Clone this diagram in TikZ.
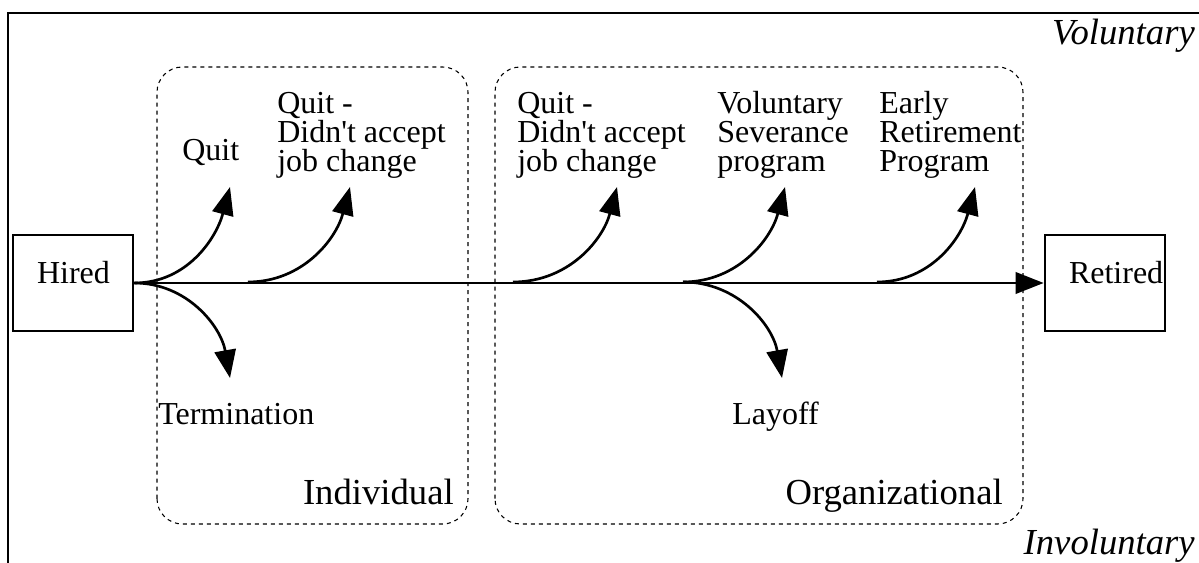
\documentclass[tikz,border=0pt]{standalone}
\usepackage{fontspec}
\setmainfont{Liberation Serif}
\usetikzlibrary{arrows.meta}

\begin{document}
\begin{tikzpicture}[
    x=0.75pt, y=0.75pt,
    stagenode/.style={rectangle, draw=black, line width=2pt, minimum height=72pt, text width=54pt, inner xsep=18pt, align=left, text height=16pt, text depth=15pt, font=\fontsize{24}{22}\selectfont},
    groupbox/.style={draw=black, line width=0.8pt, dash pattern=on 3pt off 3pt, rounded corners=19pt},
    labelnode/.style={anchor=base west, inner sep=0pt, align=left, font=\fontsize{24}{22}\selectfont},
    bignode/.style={anchor=base east, inner sep=0pt, font=\fontsize{27.5}{30}\selectfont},
    flow/.style={line width=2pt, -{Triangle[length=21pt,width=16pt]}}
    ]
    \useasboundingbox (0,0) rectangle (1199,563);

    %Frame
    \draw[line width=2pt] (8,0) -- (8,550) -- (1199,550);
    \node[bignode] (voluntary_label)   at (1195,518) {\itshape Voluntary};
    \node[bignode] (involuntary_label) at (1195,8)   {\itshape Involuntary};

    %Groups
    \draw[groupbox] (157,39) rectangle (468,496);
    \draw[groupbox] (495,39) rectangle (1023,496);
    \node[bignode] (individual_label)     at (454,58)  {Individual};
    \node[bignode] (organizational_label) at (1003,58) {Organizational};

    %Start and end
    \node[stagenode] (hired)   at (73,280)   {Hired};
    \node[stagenode] (retired) at (1105,280) {Retired};

    %Branch points
    \coordinate (quit_change_start) at (248,281);
    \coordinate (org_change_start)  at (513,281);
    \coordinate (severance_start)   at (683,281);
    \coordinate (early_start)       at (877,281);

    %Arrow ends
    \coordinate (quit_tip)        at (230,376);
    \coordinate (quit_change_tip) at (350,376);
    \coordinate (org_change_tip)  at (617,376);
    \coordinate (severance_tip)   at (785,376);
    \coordinate (early_tip)       at (975,376);
    \coordinate (termination_tip) at (230,185);
    \coordinate (layoff_tip)      at (782,185);

    %Labels (multi-line ones sit on their last line)
    \node[labelnode] (quit_label)        at (182,402) {Quit};
    \node[labelnode] (quit_change_label) at (277,391) {Quit -\\Didn{\textquotesingle}t accept\\job change};
    \node[labelnode] (org_change_label)  at (517,391) {Quit -\\Didn{\textquotesingle}t accept\\job change};
    \node[labelnode] (severance_label)   at (717,391) {Voluntary\\Severance\\program};
    \node[labelnode] (early_label)       at (879,391) {Early\\Retirement\\Program};
    \node[labelnode] (termination_label) at (158,138) {Termination};
    \node[labelnode] (layoff_label)      at (732,138) {Layoff};

    %Lines
    \draw[flow] (hired.east) -- (retired.west);

    \draw[flow] (hired.east) to[out=0, in=-105] (quit_tip);
    \draw[flow] (hired.east) to[out=0, in=100]  (termination_tip);

    \draw[flow] (quit_change_start) to[out=0, in=-105] (quit_change_tip);
    \draw[flow] (org_change_start)  to[out=0, in=-105] (org_change_tip);
    \draw[flow] (severance_start)   to[out=0, in=-105] (severance_tip);
    \draw[flow] (severance_start)   to[out=0, in=100]  (layoff_tip);
    \draw[flow] (early_start)       to[out=0, in=-105] (early_tip);

\end{tikzpicture}
\end{document}
